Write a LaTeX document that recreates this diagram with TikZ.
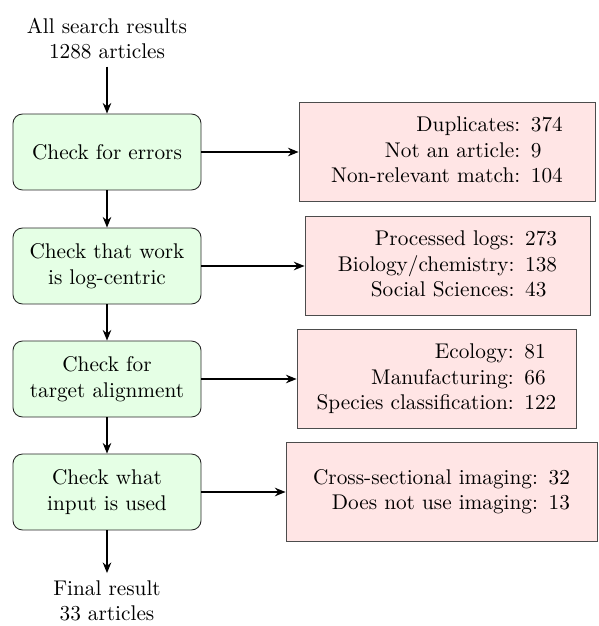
\documentclass[tikz,border=0pt]{standalone}
\usepackage{xcolor}
\usepackage{tikz}
\usetikzlibrary{positioning,arrows.meta}

\begin{document}
\begin{tikzpicture}[x=0.47pt, y=-0.47pt, >={Stealth[length=5pt,width=4pt]},
    checkbox/.style={draw=black!85, fill=green!10, rounded corners=4.5pt, align=center,
        minimum width=88.4pt, minimum height=35.7pt},
    removed/.style={draw=black!70, fill=red!10, minimum height=46.5pt},
    flow/.style={->, thick}]
    \useasboundingbox (0,0) rectangle (598,626);

    % Screening steps
    \node[align=center] (start) at (107,38.5) {All search results\\1288 articles};
    \node[checkbox] (errors) at (107,152) {Check for errors};
    \node[checkbox] (logs) at (107,266) {Check that work\\is log-centric};
    \node[checkbox] (target) at (107,379) {Check for\\target alignment};
    \node[checkbox] (input) at (107,492) {Check what\\input is used};
    \node[align=center] (final) at (107,601) {Final result\\33 articles};

    % Excluded articles
    \node[removed, minimum width=139.1pt] (errout) at (447,152) {%
        \begin{tabular}{@{}r@{\hspace{5pt}}l@{}}
            Duplicates: & 374\\ Not an article: & 9\\ Non-relevant match: & 104
        \end{tabular}};
    \node[removed, minimum width=134pt] (logout) at (447.5,266) {%
        \begin{tabular}{@{}r@{\hspace{5pt}}l@{}}
            Processed logs: & 273\\ Biology/chemistry: & 138\\ Social Sciences: & 43
        \end{tabular}};
    \node[removed, minimum width=131.1pt] (targetout) at (436.5,379) {%
        \begin{tabular}{@{}r@{\hspace{5pt}}l@{}}
            Ecology: & 81\\ Manufacturing: & 66\\ Species classification: & 122
        \end{tabular}};
    \node[removed, minimum width=146.2pt] (inputout) at (441.5,492) {%
        \begin{tabular}{@{}r@{\hspace{5pt}}l@{}}
            Cross-sectional imaging: & 32\\ Does not use imaging: & 13
        \end{tabular}};

    % Connectors
    \draw[flow] (start) -- (errors);
    \draw[flow] (errors) -- (logs);
    \draw[flow] (logs) -- (target);
    \draw[flow] (target) -- (input);
    \draw[flow] (input) -- (final);
    \draw[flow] (errors) -- (errout);
    \draw[flow] (logs) -- (logout);
    \draw[flow] (target) -- (targetout);
    \draw[flow] (input) -- (inputout);
\end{tikzpicture}
\end{document}
